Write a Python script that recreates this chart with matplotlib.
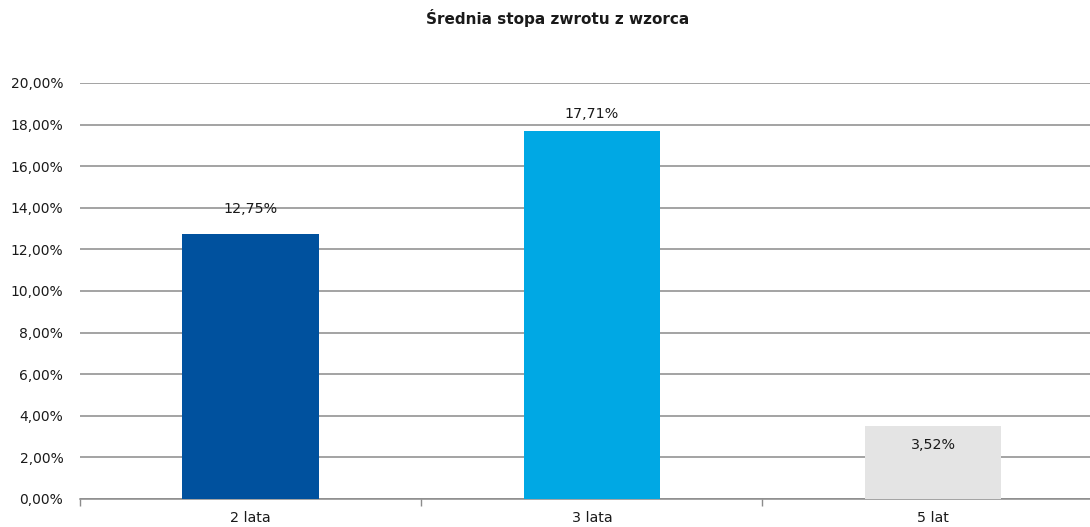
import numpy as np
import matplotlib.pyplot as plt
from matplotlib.ticker import FuncFormatter, FixedLocator

# data
categories = ['2 lata', '3 lata', '5 lat']
values = [12.75, 17.71, 3.52]
bar_colors = ['#00519E', '#00A8E4', '#E4E4E4']
# label offsets in pixels (Excel placed them a bit oddly)
label_offsets = [25, 17, -19]

plt.rcParams['font.family'] = ['DejaVu Sans']

fig = plt.figure(figsize=(10.9, 5.27), dpi=100)
ax = fig.add_axes([80 / 1090, 1 - 499 / 527, 1 - 80 / 1090, 416 / 527])

x = np.arange(len(categories))
ax.bar(x, values, width=0.40, color=bar_colors, zorder=3)

for xi, v, off in zip(x, values, label_offsets):
    ax.annotate(('%.2f%%' % v).replace('.', ','), (xi, v), xytext=(0, off),
                textcoords='offset pixels', ha='center', va='center',
                fontsize=10.3, color='#1a1a1a', zorder=4)

ax.set_ylim(0, 20)
ax.set_xlim(-0.5, 2.46)
ax.set_yticks(np.arange(0, 21, 2))
ax.yaxis.set_major_formatter(FuncFormatter(lambda v, p: ('%.2f%%' % v).replace('.', ',')))
ax.set_xticks(x)
ax.set_xticklabels(categories)
ax.xaxis.set_minor_locator(FixedLocator([-0.5, 0.5, 1.5]))
ax.tick_params(axis='x', which='major', length=0, pad=9, labelsize=10.3, labelcolor='#1a1a1a')
ax.tick_params(axis='x', which='minor', length=5, color='#8C8C8C', width=1)
ax.tick_params(axis='y', length=0, pad=12, labelsize=10, labelcolor='#1a1a1a')

ax.grid(axis='y', color='#8A8A8A', linewidth=1.1, zorder=0)
for s in ['top', 'right', 'left']:
    ax.spines[s].set_visible(False)
ax.spines['bottom'].set_color('#8A8A8A')
ax.spines['bottom'].set_linewidth(1.1)

fig.text(558 / 1090, 1 - 18 / 527, 'Średnia stopa zwrotu z wzorca', ha='center', va='center',
         fontsize=11, fontweight='bold', color='#1a1a1a')

plt.savefig('out.png', dpi=100)
